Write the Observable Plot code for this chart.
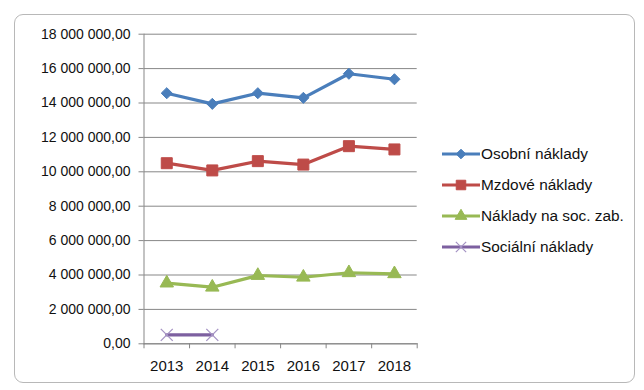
<!DOCTYPE html>
<html>
<head>
<meta charset="utf-8">
<script src="https://cdn.jsdelivr.net/npm/d3@7"></script>
<script src="https://cdn.jsdelivr.net/npm/@observablehq/plot@0.6"></script>
<style>
  html, body { margin: 0; padding: 0; background: #fff; }
  #wrap { position: relative; width: 644px; height: 390px; overflow: hidden; font-family: "Liberation Sans", Arial, sans-serif; }
  #border { position: absolute; left: 14px; top: 14px; width: 619px; height: 367px; border: 1px solid #b8b8b8; border-radius: 9px; }
  #chart { position: absolute; left: 0; top: 0; }
  #legend { position: absolute; left: 441px; top: 138px; font-size: 15.4px; color: #111; }
  .item { display: flex; align-items: center; height: 31.2px; }
  .item svg { display: block; margin-right: 0px; }
</style>
</head>
<body>
<div id="wrap">
  <div id="border"></div>
  <div id="chart"></div>
  <div id="legend"></div>
</div>
<script>
const years = [2013, 2014, 2015, 2016, 2017, 2018];
const seriesNames = ["Osobní náklady", "Mzdové náklady", "Náklady na soc. zab.", "Sociální náklady"];
const osobni = [14570000, 13950000, 14570000, 14300000, 15700000, 15380000];
const mzdove = [10500000, 10080000, 10620000, 10420000, 11490000, 11300000];
const socZab = [3530000, 3290000, 3970000, 3870000, 4130000, 4070000];
const socialni = [520000, 520000];
const yTicks = [0, 2e6, 4e6, 6e6, 8e6, 10e6, 12e6, 14e6, 16e6, 18e6];

const colors = ["#4a7ebb", "#be4b48", "#98b954", "#7d60a0"];
const symbols = ["diamond2", "square", "triangle", "times"];
const radii = [5.0, 6.2, 5.0, 5.5];

const allValues = [osobni, mzdove, socZab, socialni];
const data = [];
allValues.forEach((vals, si) => {
  vals.forEach((v, i) => data.push({series: seriesNames[si], year: years[i], value: v}));
});

const loc = d3.formatLocale({decimal: ",", thousands: "\u00a0", grouping: [3], currency: ["", ""]});
const fmt = loc.format(",.2f");
const boundaries = d3.range(years[0] - 0.5, years[years.length - 1] + 1, 1);

const marks = [
  Plot.gridY(yTicks, {stroke: "#878787", strokeOpacity: 1, strokeWidth: 1}),
  Plot.axisY(yTicks, {tickFormat: fmt, tickSize: 5, tickPadding: 8.5, stroke: "#878787", label: null, fill: "#111"}),
  Plot.axisX(boundaries, {tickFormat: () => "", tickSize: 5, stroke: "#878787", label: null}),
  Plot.axisX(years, {tickFormat: d => String(d), tickSize: 0, tickPadding: 17, label: null, fill: "#111"}),
  Plot.frame({anchor: "left", stroke: "#878787"}),
  Plot.frame({anchor: "bottom", stroke: "#878787"})
];
seriesNames.forEach((name, si) => {
  const d = data.filter(r => r.series === name);
  marks.push(Plot.line(d, {x: "year", y: "value", stroke: colors[si], strokeWidth: 3.2}));
  if (symbols[si] === "times") {
    marks.push(Plot.dot(d, {x: "year", y: "value", symbol: "times", r: radii[si], stroke: "#a593c4", strokeWidth: 1.3, fill: "none"}));
  } else {
    marks.push(Plot.dot(d, {x: "year", y: "value", symbol: symbols[si], r: radii[si], fill: colors[si], stroke: colors[si], strokeWidth: 1}));
  }
});

const chart = Plot.plot({
  width: 644,
  height: 390,
  marginLeft: 143.5,
  marginRight: 227.3,
  marginTop: 33.7,
  marginBottom: 46.7,
  style: {background: "transparent", fontFamily: "\"Liberation Sans\", Arial, sans-serif", fontSize: "14px", color: "#111"},
  x: {type: "linear", domain: [years[0] - 0.5, years[years.length - 1] + 0.5], axis: null},
  y: {type: "linear", domain: [0, 18e6], axis: null},
  marks
});
document.getElementById("chart").appendChild(chart);

// tick label font sizes
d3.select(chart).selectAll("text").each(function() {
  const isY = this.textContent.includes(",");
  d3.select(this).style("font-size", isY ? "14px" : "15px");
});

// Legend
const legend = document.getElementById("legend");
seriesNames.forEach((name, si) => {
  const item = document.createElement("div");
  item.className = "item";
  const s = d3.create("svg").attr("width", 40).attr("height", 20);
  s.append("line").attr("x1", 1).attr("x2", 39).attr("y1", 10).attr("y2", 10)
    .attr("stroke", colors[si]).attr("stroke-width", 3.2);
  const symMap = {diamond2: d3.symbolDiamond2, square: d3.symbolSquare, triangle: d3.symbolTriangle, times: d3.symbolTimes};
  const size = Math.PI * radii[si] * radii[si] * 0.75;
  const p = s.append("path").attr("transform", "translate(20,10)")
    .attr("d", d3.symbol(symMap[symbols[si]], size)());
  if (symbols[si] === "times") p.attr("fill", "none").attr("stroke", "#a593c4").attr("stroke-width", 1.2);
  else p.attr("fill", colors[si]).attr("stroke", colors[si]);
  item.appendChild(s.node());
  const t = document.createElement("span");
  t.textContent = name;
  item.appendChild(t);
  legend.appendChild(item);
});
</script>
</body>
</html>
